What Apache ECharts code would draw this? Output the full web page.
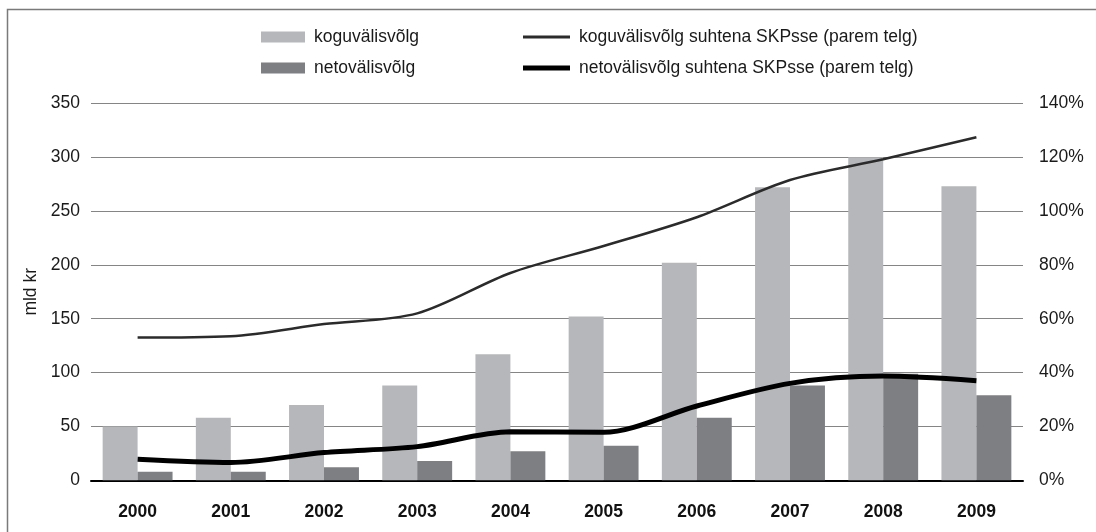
<!DOCTYPE html>
<html>
<head>
<meta charset="utf-8">
<script src="https://cdn.jsdelivr.net/npm/echarts@6/dist/echarts.min.js"></script>
<style>
html,body{margin:0;padding:0;background:#fff;}
#c{width:1096px;height:532px;}
</style>
</head>
<body>
<div id="c"></div>
<script>
const categories = ['2000','2001','2002','2003','2004','2005','2006','2007','2008','2009'];
const koguValisvolg = [50, 58, 70, 88, 117, 152, 202, 272, 300, 273];
const netoValisvolg = [8, 8, 12, 18, 27, 32, 58, 88, 99, 79];
const koguSKP = [53, 53.5, 58, 62, 77, 87, 97.7, 111.5, 119.2, 127.4];
const netoSKP = [7.8, 6.6, 10.3, 12.5, 18, 17.8, 27.6, 36, 38.7, 37];
const leftTicks = [0, 50, 100, 150, 200, 250, 300, 350];
const rightTicks = [0, 20, 40, 60, 80, 100, 120, 140];

const names = ['koguvälisvõlg', 'netovälisvõlg', 'koguvälisvõlg suhtena SKPsse (parem telg)', 'netovälisvõlg suhtena SKPsse (parem telg)'];
const font = '"Liberation Sans", Arial, sans-serif';
const fs = 17.5;
const txt = { fontFamily: font, fontSize: fs, color: '#1a1a1a' };

function legendItem(name, left, top, w, h) {
  return {
    orient: 'horizontal', left: left, top: top, padding: 0,
    itemWidth: w, itemHeight: h, icon: 'rect',
    textStyle: Object.assign({ padding: [0, 0, 0, 4] }, txt),
    data: [name]
  };
}

const chart = echarts.init(document.getElementById('c'));
chart.setOption({
  animation: false,
  backgroundColor: '#fff',
  graphic: [{
    type: 'polyline', silent: true,
    shape: { points: [[7.5, 700], [7.5, 9.5], [1300, 9.5]] },
    style: { fill: null, stroke: '#7a7a7a', lineWidth: 1.5 }
  }],
  legend: [
    legendItem(names[0], 261, 28, 44, 11),
    legendItem(names[1], 261, 59, 44, 11),
    legendItem(names[2], 523, 28, 47, 3),
    legendItem(names[3], 523, 59, 47, 5)
  ],
  grid: { left: 91, right: 73, top: 103.3, bottom: 51.7 },
  xAxis: {
    type: 'category', data: categories,
    axisTick: { show: false },
    axisLine: { show: true, lineStyle: { color: '#000', width: 2 } },
    axisLabel: { fontFamily: font, fontSize: fs, fontWeight: 'bold', color: '#111', margin: 23 }
  },
  yAxis: [{
    type: 'value', min: leftTicks[0], max: leftTicks[leftTicks.length - 1], interval: 50,
    name: 'mld kr', nameLocation: 'middle', nameGap: 49, nameRotate: 90,
    nameTextStyle: txt,
    axisLine: { show: false }, axisTick: { show: false },
    axisLabel: Object.assign({ margin: 11 }, txt),
    splitLine: { lineStyle: { color: '#858585', width: 1 } }
  }, {
    type: 'value', min: rightTicks[0], max: rightTicks[rightTicks.length - 1], interval: 20,
    position: 'right',
    axisLine: { show: false }, axisTick: { show: false },
    axisLabel: Object.assign({ margin: 16, formatter: '{value}%' }, txt),
    splitLine: { show: false }
  }],
  series: [{
    name: names[0], type: 'bar', data: koguValisvolg,
    barGap: '0%', barCategoryGap: '25%',
    itemStyle: { color: '#b6b7ba' }
  }, {
    name: names[1], type: 'bar', data: netoValisvolg,
    itemStyle: { color: '#7e7f83' }
  }, {
    name: names[2], type: 'line', yAxisIndex: 1, data: koguSKP,
    smooth: 0.3, symbol: 'none',
    lineStyle: { color: '#2b2b2b', width: 2.5 },
    itemStyle: { color: '#2b2b2b' }
  }, {
    name: names[3], type: 'line', yAxisIndex: 1, data: netoSKP,
    smooth: 0.3, symbol: 'none',
    lineStyle: { color: '#000', width: 5 },
    itemStyle: { color: '#000' }
  }]
});
</script>
</body>
</html>
